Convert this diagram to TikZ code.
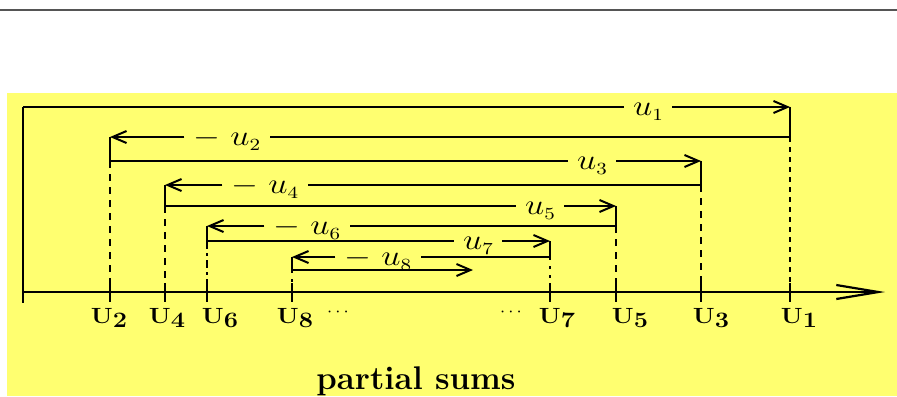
\documentclass[tikz,border=0pt]{standalone}
\usetikzlibrary{arrows.meta}
\usepackage{graphicx}
\definecolor{bgyellow}{RGB}{255,255,112}
\definecolor{rulegray}{RGB}{85,85,85}
\newcommand\ulab[1]{\scalebox{1.2}[1]{$u$\lower2.5pt\hbox{\fontsize{8.5}{9}\selectfont #1}}}
\newcommand\nulab[1]{\scalebox{1.2}[1]{$-\;u$\lower2.5pt\hbox{\fontsize{8.5}{9}\selectfont #1}}}
\newcommand\Ulab[1]{\scalebox{1.15}[1]{\textbf{U}\lower2pt\hbox{\fontsize{11}{11}\selectfont\bfseries #1}}}
\tikzset{
  x=0.5pt, y=-0.5pt,
  path/.style={line width=1.2pt, line join=miter},
  arr/.style={path, -{Straight Barb[length=7pt,width=6pt,line width=1pt]}},
  ulabel/.style={anchor=base, inner xsep=4.5pt, inner ysep=0pt, font=\fontsize{14}{16}\selectfont},
  Ulabel/.style={font=\fontsize{11}{13}\selectfont, inner sep=0pt},
  dashv/.style={line width=1.2pt, dash pattern=on 3.5pt off 3pt},
  dotv/.style={line width=1.4pt, dash pattern=on 1.5pt off 3pt},
  dashdotv/.style={line width=1.2pt, dash pattern=on 4pt off 2pt on 1.5pt off 2pt},
  shortdashv/.style={line width=1.2pt, dash pattern=on 2.5pt off 2.5pt},
  tick/.style={line width=1.2pt},
}
\begin{document}
\begin{tikzpicture}
\useasboundingbox (0,0) rectangle (897,396);
\fill[bgyellow] (7,93) rectangle (897,396);
\draw[rulegray, line width=1pt] (0,10) -- (897,10);

% coordinates of the zig-zag
\coordinate (s)  at (23,107);
\coordinate (a1) at (790,107);
\coordinate (b1) at (790,137);
\coordinate (a2) at (110,137);
\coordinate (b2) at (110,161);
\coordinate (a3) at (701,161);
\coordinate (b3) at (701,185);
\coordinate (a4) at (165,185);
\coordinate (b4) at (165,206);
\coordinate (a5) at (616,206);
\coordinate (b5) at (616,226);
\coordinate (a6) at (207,226);
\coordinate (b6) at (207,241);
\coordinate (a7) at (550,241);
\coordinate (b7) at (550,257);
\coordinate (a8) at (292,257);
\coordinate (b8) at (292,270);
\coordinate (e8) at (473,270);

% step labels (baseline a little below the line so that u sits on it)
\node[ulabel] (l1) at (648,115) {\ulab{1}};
\node[ulabel] (l2) at (227,145) {\nulab{2}};
\node[ulabel] (l3) at (592,169) {\ulab{3}};
\node[ulabel] (l4) at (265,193) {\nulab{4}};
\node[ulabel] (l5) at (540,214) {\ulab{5}};
\node[ulabel] (l6) at (307,234) {\nulab{6}};
\node[ulabel] (l7) at (478,249) {\ulab{7}};
\node[ulabel] (l8) at (378,265) {\nulab{8}};

% axis
\coordinate (ax0) at (23,292);
\coordinate (ax1) at (885,292);
\coordinate (sb) at (23,303);
\draw[line width=1.1pt, -{Straight Barb[length=21pt,width=7pt,line width=1.1pt]}] (ax0) -- (ax1);
\draw[path] (s) -- (sb);

% ticks
\foreach \x in {110,165,207,292,550,616,701,790}
  \draw[tick] (\x,283) -- (\x,302);

% vertical drops to axis
\draw[shortdashv] (b1) -- (790,292);
\draw[dashv] (b2) -- (110,292);
\draw[dashv] (b3) -- (701,292);
\draw[dashv] (b4) -- (165,292);
\draw[dashv] (b5) -- (616,292);
\draw[dashdotv] (b6) -- (207,292);
\draw[dotv] (b7) -- (550,292);
\draw[dotv] (b8) -- (292,292);

% steps
\draw[path] (s) -- (s -| l1.west);
\draw[arr] (s -| l1.east) -- (a1);
\draw[path] (a1) -- (b1);
\draw[path] (b1) -- (b1 -| l2.east);
\draw[arr] (b1 -| l2.west) -- (a2);
\draw[path] (a2) -- (b2);
\draw[path] (b2) -- (b2 -| l3.west);
\draw[arr] (b2 -| l3.east) -- (a3);
\draw[path] (a3) -- (b3);
\draw[path] (b3) -- (b3 -| l4.east);
\draw[arr] (b3 -| l4.west) -- (a4);
\draw[path] (a4) -- (b4);
\draw[path] (b4) -- (b4 -| l5.west);
\draw[arr] (b4 -| l5.east) -- (a5);
\draw[path] (a5) -- (b5);
\draw[path] (b5) -- (b5 -| l6.east);
\draw[arr] (b5 -| l6.west) -- (a6);
\draw[path] (a6) -- (b6);
\draw[path] (b6) -- (b6 -| l7.west);
\draw[arr] (b6 -| l7.east) -- (a7);
\draw[path] (a7) -- (b7);
\draw[path] (b7) -- (b7 -| l8.east);
\draw[arr] (b7 -| l8.west) -- (a8);
\draw[path] (a8) -- (b8);
\draw[arr] (b8) -- (e8);

% axis labels
\node[Ulabel] (U2) at (109,318) {\Ulab{2}};
\node[Ulabel] (U4) at (167,318) {\Ulab{4}};
\node[Ulabel] (U6) at (220,318) {\Ulab{6}};
\node[Ulabel] (U8) at (295,318) {\Ulab{8}};
\node[Ulabel, font=\fontsize{9}{10}\selectfont] (d1) at (338,312) {$\cdots$};
\node[Ulabel, font=\fontsize{9}{10}\selectfont] (d2) at (511,312) {$\cdots$};
\node[Ulabel] (U7) at (557,318) {\Ulab{7}};
\node[Ulabel] (U5) at (630,318) {\Ulab{5}};
\node[Ulabel] (U3) at (711,318) {\Ulab{3}};
\node[Ulabel] (U1) at (799,318) {\Ulab{1}};

\node[anchor=base, inner sep=0pt, font=\fontsize{16.4}{20}\selectfont\bfseries] (title) at (416,389) {partial sums};
\end{tikzpicture}
\end{document}
